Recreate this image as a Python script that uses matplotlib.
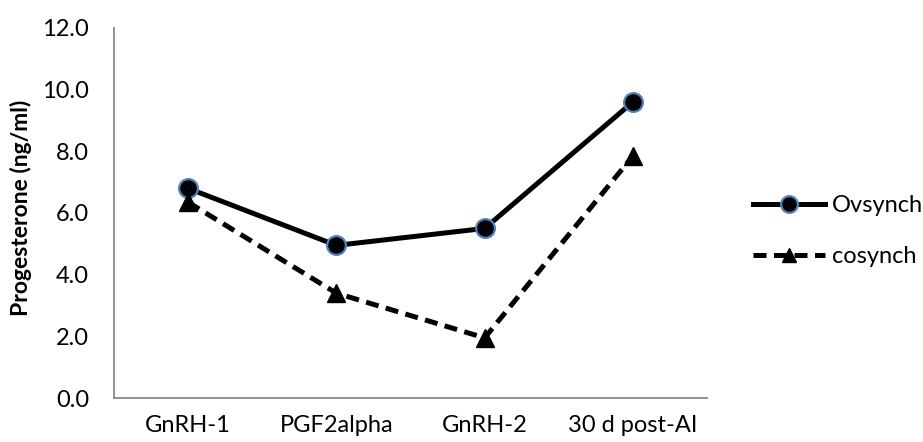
import numpy as np
import matplotlib.pyplot as plt

# data
stages = ['GnRH-1', 'PGF2alpha', 'GnRH-2', '30 d post-AI']
ovsynch = [6.8, 4.95, 5.5, 9.6]
cosynch = [6.35, 3.4, 1.95, 7.85]

plt.rcParams['font.family'] = ['Lato', 'DejaVu Sans']
fs = 17

fig = plt.figure(figsize=(9.23, 4.42), dpi=100)
ax = fig.add_axes([0.1235, 0.0995, 0.6425, 0.8372])

x = np.arange(len(stages))
ax.plot(x, ovsynch, color='black', lw=3.6, marker='o', ms=13.5,
        mfc='black', mec='#4F81BD', mew=1.6, label='Ovsynch', zorder=3)
ax.plot(x, cosynch, color='black', lw=3.6, ls=(0, (2.6, 1.5)), marker='^',
        ms=13, mfc='black', mec='black', label='cosynch', zorder=3)

ax.set_xlim(-0.5, len(stages) - 0.5)
ax.set_ylim(0, 12)
ax.set_yticks(np.arange(0, 12.1, 2))
ax.set_yticklabels(['%.1f' % v for v in np.arange(0, 12.1, 2)])
ax.set_xticks(x)
ax.set_xticklabels(stages)
ax.tick_params(length=0, labelsize=fs, colors='black')
ax.tick_params(axis='y', pad=18)
ax.tick_params(axis='x', pad=12)

for s in ['top', 'right']:
    ax.spines[s].set_visible(False)
for s in ['left', 'bottom']:
    ax.spines[s].set_color('#898989')
    ax.spines[s].set_linewidth(1.3)

ax.set_ylabel('Progesterone (ng/ml)', fontsize=16.5, fontweight='bold')
ax.yaxis.set_label_coords(-0.138, 0.514)

leg = ax.legend(loc='center left', bbox_to_anchor=(0.816, 0.477),
                bbox_transform=fig.transFigure, frameon=False, fontsize=fs,
                handlelength=3.05, handletextpad=0.3, labelspacing=1.25,
                borderpad=0, borderaxespad=0)
leg.legend_handles[0].set_markersize(12)
leg.legend_handles[1].set_markersize(10)

fig.savefig('out.png', dpi=100)
